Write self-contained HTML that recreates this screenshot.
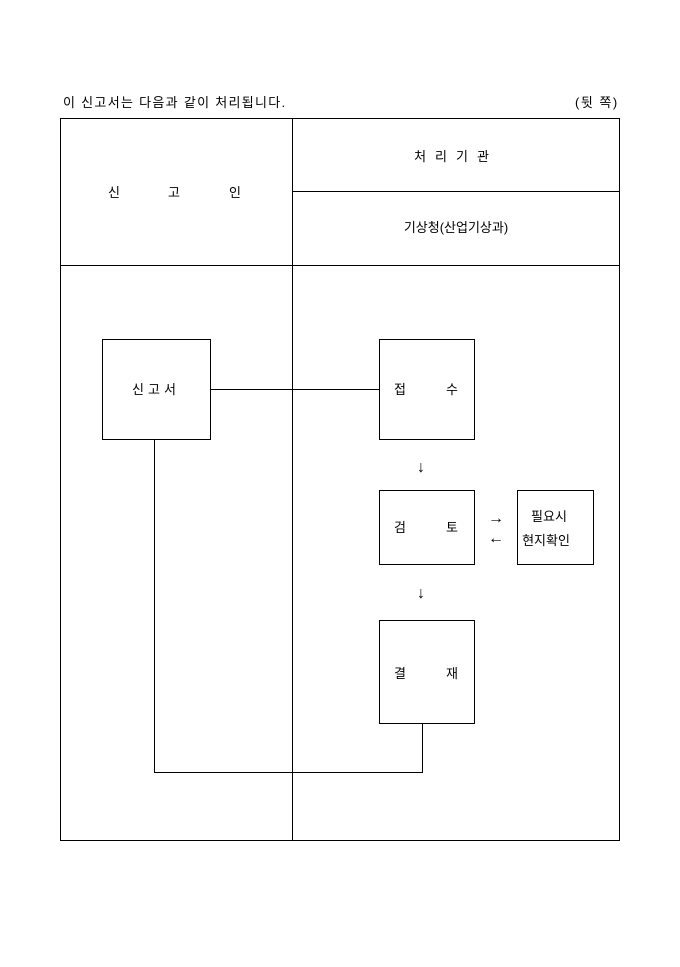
<!DOCTYPE html>
<html><head><meta charset="utf-8"><style>
body{margin:0;background:#fff;}
svg text{font-family:"Liberation Sans","Noto Sans CJK KR","NanumGothic",sans-serif;font-size:13px;fill:#000;}
svg text.ar{font-size:16px;}
</style></head><body>
<svg width="680" height="962" viewBox="0 0 680 962" xmlns="http://www.w3.org/2000/svg">
<g stroke="#000" stroke-width="1" fill="none" shape-rendering="crispEdges">
<rect x="60.5" y="118.5" width="559" height="722"/>
<line x1="292.5" y1="118" x2="292.5" y2="841"/>
<line x1="292" y1="191.5" x2="620" y2="191.5"/>
<line x1="60" y1="265.5" x2="620" y2="265.5"/>
<rect x="102.5" y="339.5" width="108" height="100"/>
<rect x="379.5" y="339.5" width="95" height="100"/>
<rect x="379.5" y="490.5" width="95" height="74"/>
<rect x="517.5" y="490.5" width="76" height="74"/>
<rect x="379.5" y="620.5" width="95" height="103"/>
<line x1="210" y1="389.5" x2="379" y2="389.5"/>
<polyline points="154.5,439 154.5,772.5 422.5,772.5 422.5,723"/>
</g>
<text x="63" y="107" letter-spacing="1.3">이 신고서는 다음과 같이 처리됩니다.</text>
<text x="575" y="107" letter-spacing="1.5">(뒷 쪽)</text>
<text x="108" y="197">신</text><text x="168" y="197">고</text><text x="229" y="197">인</text>
<text x="456" y="161" text-anchor="middle" letter-spacing="9">처리기관</text>
<text x="456" y="232" text-anchor="middle">기상청(산업기상과)</text>
<text x="156" y="394" text-anchor="middle" letter-spacing="4">신고서</text>
<text x="394" y="394">접</text><text x="446" y="394">수</text>
<text x="394" y="532">검</text><text x="446" y="532">토</text>
<text x="394" y="678">결</text><text x="446" y="678">재</text>
<text x="549" y="521" text-anchor="middle">필요시</text>
<text x="546" y="545" text-anchor="middle">현지확인</text>
<text class="ar" x="421" y="472" text-anchor="middle">↓</text>
<text class="ar" x="421" y="598" text-anchor="middle">↓</text>
<text class="ar" x="496" y="523" text-anchor="middle">→</text>
<text class="ar" x="496" y="543" text-anchor="middle">←</text>
</svg>
</body></html>
